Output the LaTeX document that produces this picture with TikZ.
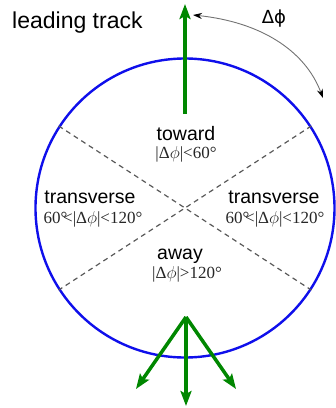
\documentclass[tikz,border=0pt]{standalone}
\usepackage{fontspec}
\setmainfont{Liberation Serif}
\newfontfamily\sansf{Liberation Sans}
\newfontfamily\dvs{DejaVu Sans}
\usetikzlibrary{arrows.meta}
\definecolor{trackgreen}{RGB}{0,135,0}
\definecolor{ringblue}{RGB}{15,15,235}
\begin{document}
\begin{tikzpicture}[x=1pt,y=-1pt,
  regionlbl/.style={font=\sansf\fontsize{19.5}{20}\selectfont, anchor=base, inner sep=0pt},
  rangelbl/.style={font=\fontsize{17}{18}\selectfont, anchor=base, inner sep=0pt, text=black!85},
  track/.style={draw=trackgreen, line width=3.5pt, -{Stealth[length=15pt,width=11pt,inset=3pt,trackgreen]}},
  divider/.style={draw=black!65, line width=1.2pt, dash pattern=on 5pt off 4pt},
  angarrow/.style={draw=black!55, line width=0.9pt, {Stealth[length=9pt,width=6pt,black]}-{Stealth[length=9pt,width=6pt,black]}}]
\path[use as bounding box] (0,0) rectangle (336,408);
% ring
\node[circle, draw=ringblue, line width=2.4pt, minimum size=299pt, inner sep=0pt] (ring) at (185,208) {};
% dividers
\draw[divider] (ring.147) -- (ring.-33);
\draw[divider] (ring.33) -- (ring.213);
% labels
\node[anchor=base west, inner sep=0pt, font=\sansf\fontsize{23}{24}\selectfont] (lead) at (12,28) {leading track};
\node[anchor=base, inner sep=0pt, font=\dvs\fontsize{18}{19}\selectfont] (dphi) at (274,23) {Δϕ};
\node[regionlbl] (toward) at (186,140) {toward};
\node[rangelbl] (towardr) at (186,158) {|Δ$\phi$|<60°};
\node[regionlbl] (transL) at (90,203) {transverse};
\node[rangelbl] (transLr) at (93,223) {60°\kern-0.25em<|Δ$\phi$|<120°};
\node[regionlbl] (transR) at (274,203) {transverse};
\node[rangelbl] (transRr) at (275,223) {60°\kern-0.25em<|Δ$\phi$|<120°};
\node[regionlbl] (away) at (180,259) {away};
\node[rangelbl] (awayr) at (187,278) {|Δ$\phi$|>120°};
% angle arrow
\coordinate (a0) at (193,15);
\coordinate (a1) at (323,98);
\draw[angarrow] (a0) .. controls (260,22) and (305,50) .. (a1);
% tracks
\coordinate (lt0) at (185,114);
\coordinate (lt1) at (185,4);
\draw[track] (lt0) -- (lt1);
\coordinate (aw0) at (186,317);
\coordinate (aw1) at (186,406);
\coordinate (aw2) at (136,389);
\coordinate (aw3) at (236,389);
\draw[track] (aw0) -- (aw1);
\draw[track] (aw0) -- (aw2);
\draw[track] (aw0) -- (aw3);
\end{tikzpicture}
\end{document}
